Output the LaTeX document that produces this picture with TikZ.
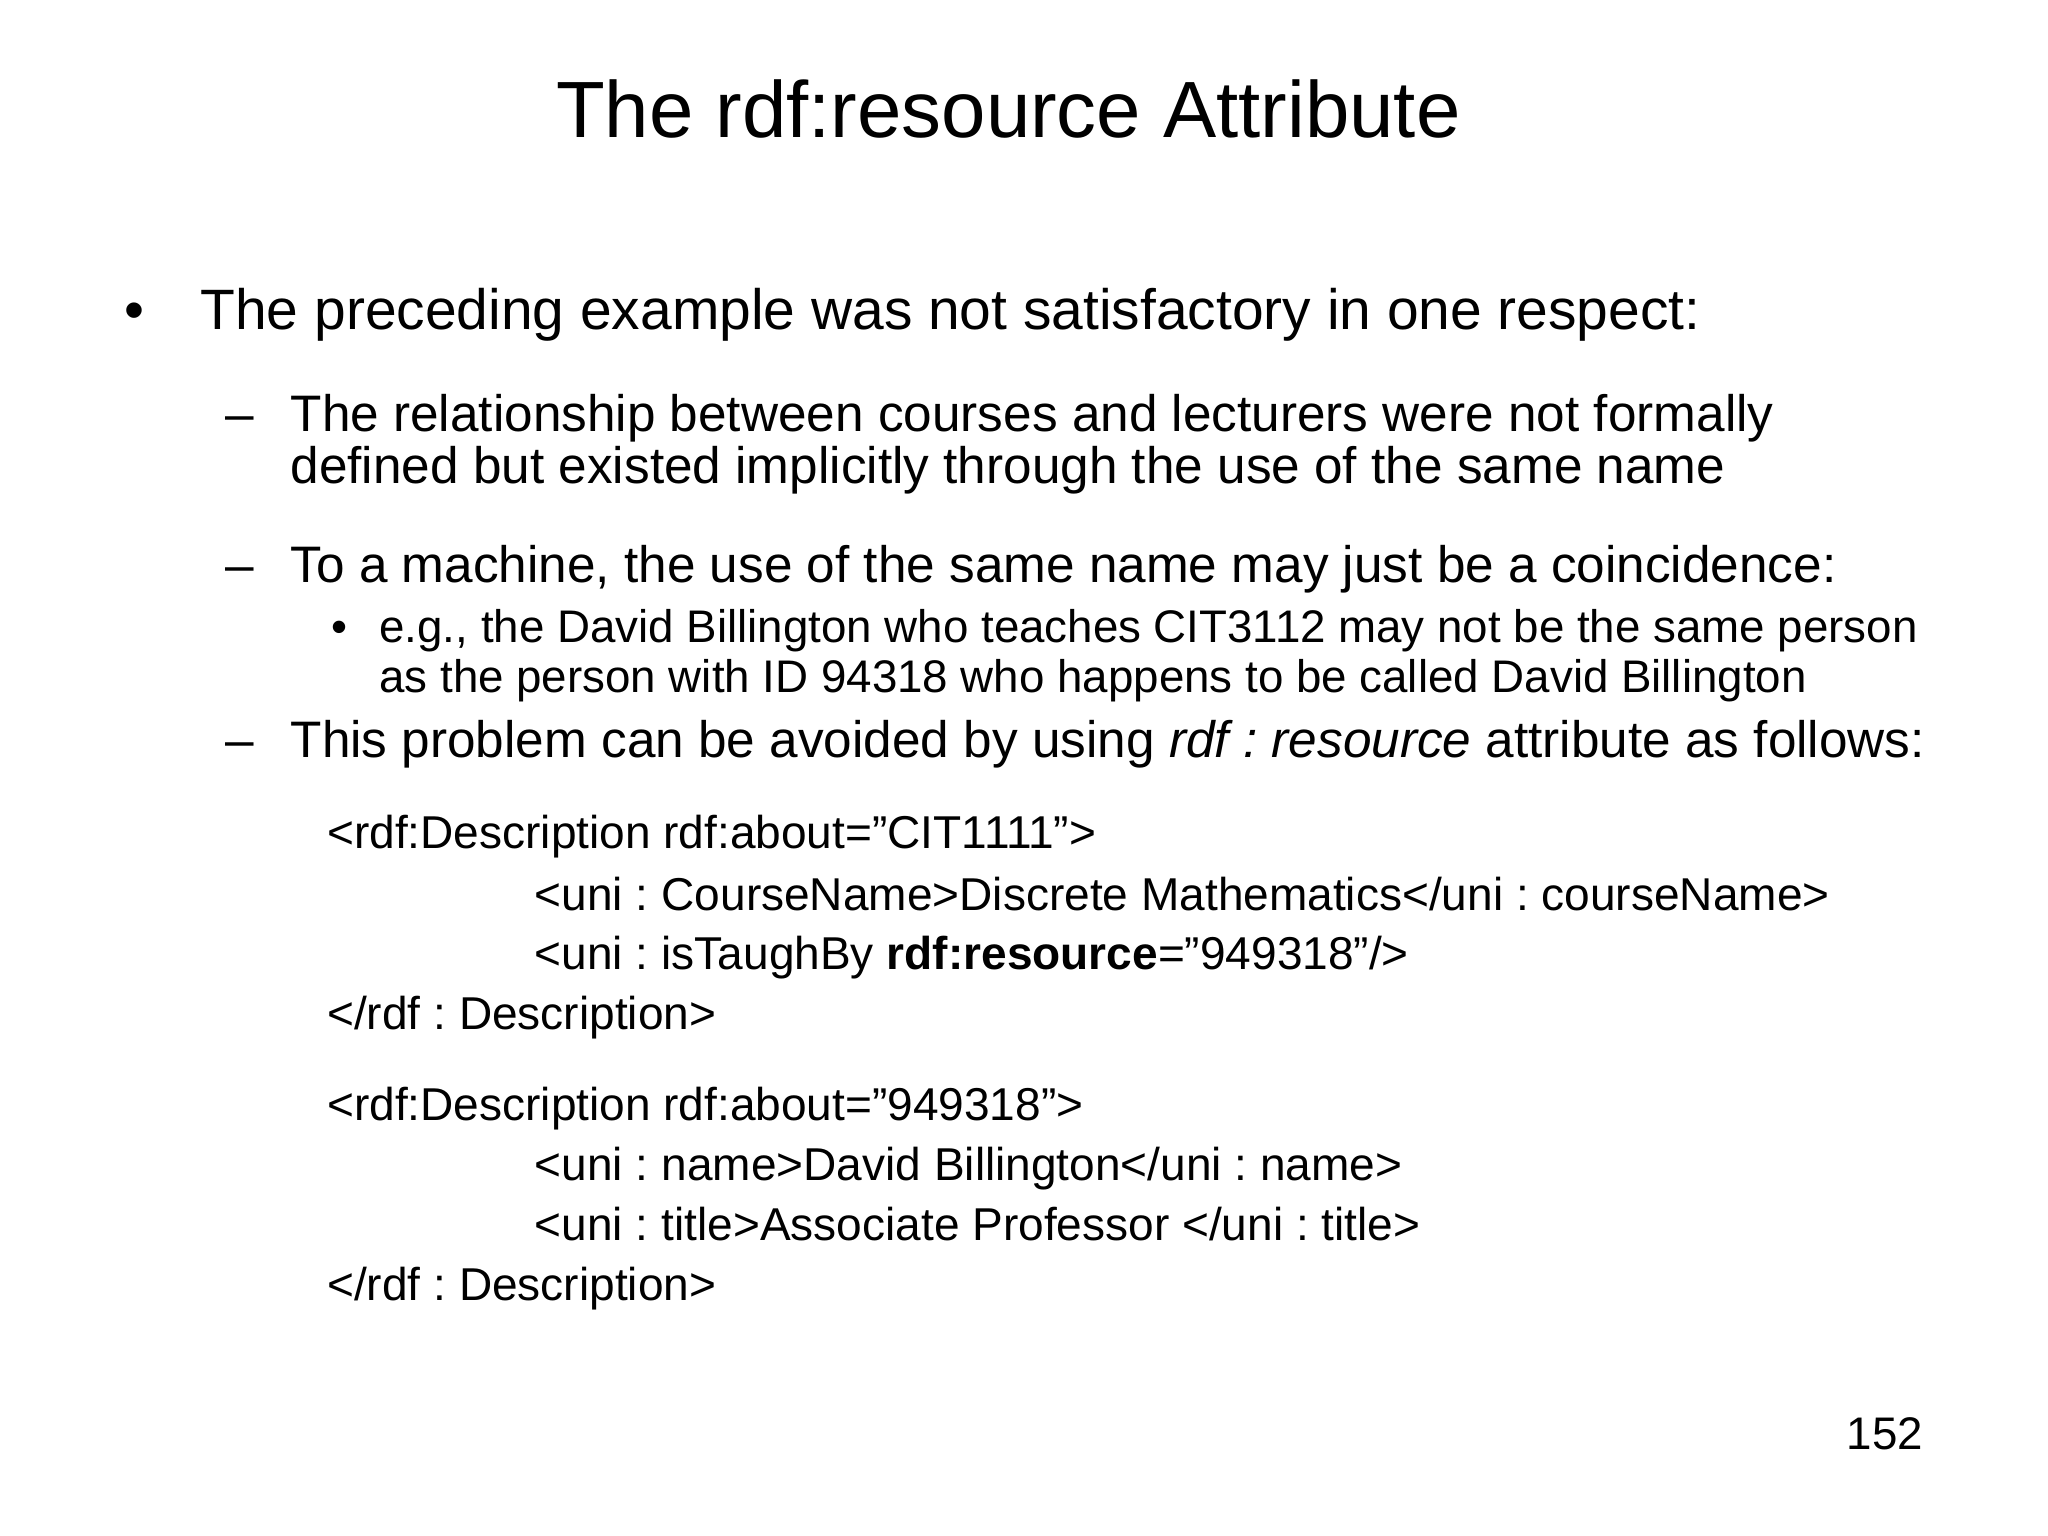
\documentclass[tikz,border=0pt]{standalone}
\usepackage{fontspec}
\setmainfont{Liberation Sans}
\frenchspacing
\begin{document}
\begin{tikzpicture}[x=0.01306cm,y=-0.01306cm,
 t/.style={anchor=base west,inner sep=0pt},
 lone/.style={t,font=\fontsize{16.2pt}{19pt}\selectfont},
 ltwo/.style={t,font=\fontsize{14.6pt}{19pt}\selectfont},
 lthree/.style={t,font=\fontsize{13pt}{16pt}\selectfont},
 code/.style={t,font=\fontsize{13.1pt}{17pt}\selectfont}]
\useasboundingbox (0,0) rectangle (1568,1176);
\node[anchor=base,inner sep=0pt,font=\fontsize{22.7pt}{27pt}\selectfont] (title) at (772,105) {The rdf:resource Attribute};
\node[lone] (b1) at (95,252) {•};
\node[lone] (l1) at (153,252) {The preceding example was not satisfactory in one respect:};
\node[ltwo] (d1) at (172,330) {–};
\node[ltwo] (l2) at (222,330) {The relationship between courses and lecturers were not formally};
\node[ltwo] (l3) at (222,370) {defined but existed implicitly through the use of the same name};
\node[ltwo] (d2) at (172,446) {–};
\node[ltwo] (l4) at (222,446) {To a machine, the use of the same name may just be a coincidence:};
\node[lthree] (b2) at (253,492) {•};
\node[lthree] (l5) at (290,492) {e.g., the David Billington who teaches CIT3112 may not be the same person};
\node[lthree] (l6) at (290,530) {as the person with ID 94318 who happens to be called David Billington};
\node[ltwo] (d3) at (172,580) {–};
\node[ltwo] (l7) at (222,580) {This problem can be avoided by using \textit{rdf : resource} attribute as follows:};
\node[code] (c1) at (250,650) {<rdf:Description rdf:about=”CIT1111”>};
\node[code] (c2) at (409,697) {<uni : CourseName>Discrete Mathematics</uni : courseName>};
\node[code] (c3) at (409,742) {<uni : isTaughBy \textbf{rdf:resource}=”949318”/>};
\node[code] (c4) at (250,788) {</rdf : Description>};
\node[code] (c5) at (250,858) {<rdf:Description rdf:about=”949318”>};
\node[code] (c6) at (409,904) {<uni : name>David Billington</uni : name>};
\node[code] (c7) at (409,950) {<uni : title>Associate Professor </uni : title>};
\node[code] (c8) at (250,996) {</rdf : Description>};
\node[anchor=base east,inner sep=0pt,font=\fontsize{13pt}{15pt}\selectfont] (pg) at (1473,1110) {152};
\end{tikzpicture}
\end{document}
